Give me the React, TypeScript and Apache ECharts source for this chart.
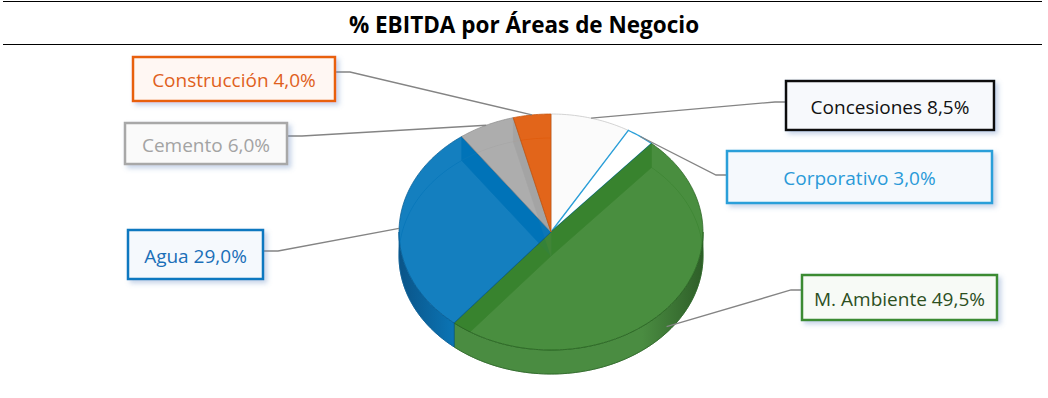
import React, { useEffect, useRef } from "react";
import * as echarts from "echarts";

const names = ["Concesiones", "Corporativo", "M. Ambiente", "Agua", "Cemento", "Construcción"];
const values = [8.5, 3.0, 49.5, 29.0, 6.0, 4.0];
const titleText = "% EBITDA por Áreas de Negocio";

// styles (not data)
const faceColors = ["#fbfbfb", "#ffffff", "#3a842f", "#0074ba", "#a6a6a6", "#df5807"];
const faceStrokes = ["#c8c8c8", "#2a9fd9", "#2a6424", "#0a5e95", "#8f8f8f", "#c4540f"];
const wallColors = ["#e6e6e6", "#d6e9f5", "#2f6e29", "#0a669f", "#8e8e8e", "#b9500f"];
const sideStops = [
  [["#e8e8e8", 0], ["#d0d0d0", 1]],
  [["#e0eef8", 0], ["#c8dff0", 1]],
  [["#4a8c41", 0], ["#4a8c41", 0.8], ["#2e5e28", 1]],
  [["#0a5488", 0], ["#0b74b4", 0.18], ["#0b78b8", 1]],
  [["#999", 0], ["#999", 1]],
  [["#c8570f", 0], ["#c8570f", 1]],
];
const labelText = ["#111111", "#2a9ad8", "#2c4f1e", "#1a6fb8", "#a3a3a3", "#e0601c"];
const labelBorder = ["#111111", "#2a9fd9", "#3b8a31", "#0b78c0", "#a8a8a8", "#e8600e"];
const labelFill = ["#f7f9fc", "#f5f9fd", "#f7faf6", "#f5f9fd", "#fafafa", "#fff7f3"];
// label box layout: x, y, w, h, attach y, side ('l' = line enters from left)
const boxes = [
  { x: 786, y: 81, w: 208, h: 49, ay: 102, side: "l" },
  { x: 727, y: 151, w: 265, h: 52, ay: 175, side: "l" },
  { x: 802, y: 275, w: 195, h: 45, ay: 290, side: "l" },
  { x: 128, y: 230, w: 135, h: 49, ay: 251, side: "r" },
  { x: 125, y: 123, w: 162, h: 41, ay: 136, side: "r" },
  { x: 133, y: 57, w: 202, h: 44, ay: 72, side: "r" },
];

const CX = 551, CY = 232, RX = 152, RY = 118, DEPTH = 24;
const FONT = "'Open Sans', 'Noto Sans', sans-serif";

const total = values.reduce((a, b) => a + b, 0);
const starts: number[] = [];
{
  let acc = 0;
  values.forEach((v) => {
    starts.push((acc / total) * 360);
    acc += v;
  });
}
const angles = (i: number) => [starts[i], starts[i] + (values[i] / total) * 360];

function pt(deg: number, dy = 0, s = 1): number[] {
  const a = (deg * Math.PI) / 180;
  return [CX + Math.sin(a) * RX * s, CY - Math.cos(a) * RY * s + dy];
}
function arc(a0: number, a1: number, dy = 0): number[][] {
  const n = Math.max(2, Math.ceil(Math.abs(a1 - a0)));
  const p: number[][] = [];
  for (let k = 0; k <= n; k++) p.push(pt(a0 + ((a1 - a0) * k) / n, dy));
  return p;
}
const fmt = (v: number) => v.toFixed(1).replace(".", ",") + "%";

export default function App() {
  const ref = useRef<HTMLDivElement>(null);
  useEffect(() => {
    if (!ref.current) return;
    const chart = echarts.init(ref.current, undefined, { renderer: "svg" });
    const data = values.map((v, i) => [i, v]);

    const renderSides = (params: any) => {
      const i = params.dataIndex;
      const [a0, a1] = angles(i);
      const children: any[] = [];
      children.push({
        type: "polyline",
        shape: { points: arc(a0, a1, DEPTH) },
        style: { stroke: faceStrokes[i], lineWidth: 1, fill: null, opacity: 0.6 },
      });
      const wall = (a: number) => ({
        type: "polygon",
        shape: { points: [[CX, CY], pt(a), pt(a, DEPTH), [CX, CY + DEPTH]] },
        style: { fill: wallColors[i], stroke: faceStrokes[i], lineWidth: 0.6 },
      });
      if (Math.sin((a0 * Math.PI) / 180) > 0.01) children.push(wall(a0));
      if (Math.sin((a1 * Math.PI) / 180) < -0.01) children.push(wall(a1));
      const s = Math.max(a0, 90), e = Math.min(a1, 270);
      if (e > s) {
        const top = arc(s, e, 0);
        const bot = arc(s, e, DEPTH).reverse();
        children.push({
          type: "polygon",
          shape: { points: top.concat(bot) },
          style: {
            fill: {
              type: "linear", x: CX - RX, y: 0, x2: CX + RX, y2: 0, global: true,
              colorStops: sideStops[i].map(([c, o]) => ({ offset: o, color: c })),
            },
            stroke: faceStrokes[i],
            lineWidth: 0.8,
          },
        });
      }
      return { type: "group", children };
    };

    const renderFaces = (params: any) => {
      const i = params.dataIndex;
      const [a0, a1] = angles(i);
      return {
        type: "polygon",
        shape: { points: [[CX, CY]].concat(arc(a0, a1, 0)) },
        style: {
          fill: faceColors[i],
          opacity: i < 2 ? 1 : 0.92,
          stroke: faceStrokes[i],
          lineWidth: i === 1 ? 1.3 : 0.8,
        },
      };
    };

    const renderLabels = (params: any) => {
      const i = params.dataIndex;
      const [a0, a1] = angles(i);
      const mid = (a0 + a1) / 2;
      const front = Math.cos((mid * Math.PI) / 180) < 0;
      const anchor = pt(mid, front ? DEPTH * 0.75 : 0);
      const b = boxes[i];
      const ax = b.side === "l" ? b.x - 1 : b.x + b.w + 1;
      const ex = b.side === "l" ? ax - 10 : ax + 14;
      return {
        type: "group",
        children: [
          {
            type: "polyline",
            shape: { points: [anchor, [ex, b.ay], [ax, b.ay]] },
            style: { stroke: "#848484", lineWidth: 1.3, fill: null },
          },
          {
            type: "rect",
            shape: { x: b.x, y: b.y, width: b.w, height: b.h },
            style: {
              fill: labelFill[i],
              stroke: labelBorder[i],
              lineWidth: 2.5,
              shadowBlur: 5,
              shadowOffsetX: 3,
              shadowOffsetY: 3,
              shadowColor: "rgba(90,130,190,0.35)",
            },
          },
          {
            type: "text",
            style: {
              text: `${names[i]} ${fmt(values[i])}`,
              x: b.x + b.w / 2,
              y: b.y + b.h / 2 + 1,
              align: "center",
              verticalAlign: "middle",
              fill: labelText[i],
              font: `19px ${FONT}`,
            },
          },
        ],
      };
    };

    chart.setOption({
      animation: false,
      backgroundColor: "#ffffff",
      title: {
        text: titleText,
        left: "center",
        top: 8,
        textStyle: { fontFamily: FONT, fontSize: 22.5, fontWeight: "bold", color: "#000" },
      },
      graphic: [
        { type: "line", shape: { x1: 3, y1: 1.5, x2: 1042, y2: 1.5 }, style: { stroke: "#000", lineWidth: 1.2 } },
        { type: "line", shape: { x1: 3, y1: 44.5, x2: 1042, y2: 44.5 }, style: { stroke: "#000", lineWidth: 1.2 } },
      ],
      series: [
        { type: "custom", coordinateSystem: "none", data, renderItem: renderSides, silent: true },
        { type: "custom", coordinateSystem: "none", data, renderItem: renderFaces, silent: true },
        { type: "custom", coordinateSystem: "none", data, renderItem: renderLabels, silent: true },
      ],
    });
    return () => chart.dispose();
  }, []);
  return (
    <div
      ref={ref}
      style={{ position: "fixed", left: 0, top: 0, width: 1048, height: 398, background: "#fff" }}
    />
  );
}
